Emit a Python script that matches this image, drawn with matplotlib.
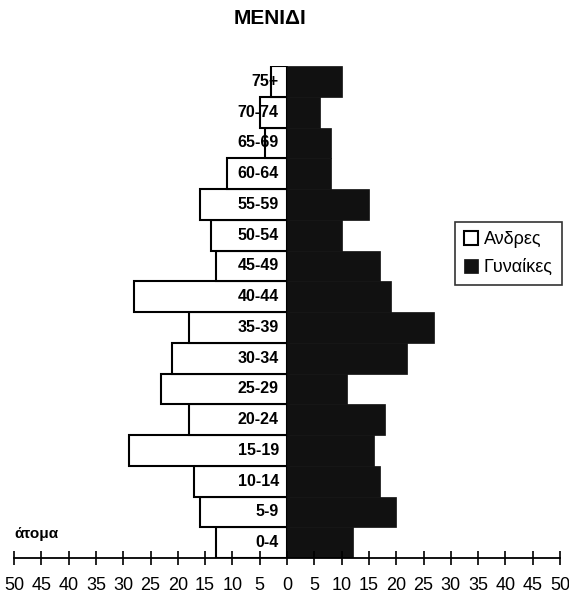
import matplotlib
matplotlib.use('Agg')
import matplotlib.pyplot as plt
import numpy as np

# age groups, bottom to top
age_groups = ['0-4', '5-9', '10-14', '15-19', '20-24', '25-29', '30-34', '35-39',
              '40-44', '45-49', '50-54', '55-59', '60-64', '65-69', '70-74', '75+']
men = [13, 16, 17, 29, 18, 23, 21, 18, 28, 13, 14, 16, 11, 4, 5, 3]
women = [12, 20, 17, 16, 18, 11, 22, 27, 19, 17, 10, 15, 8, 8, 6, 10]
xticks = list(range(-50, 51, 5))

plt.rcParams['font.family'] = ['Liberation Sans', 'DejaVu Sans']

fig = plt.figure(figsize=(5.69, 5.96), dpi=100)
ax = fig.add_axes([14 / 569, 1 - 558 / 596, 546 / 569, 492 / 596])

y = np.arange(len(age_groups))
b_men = ax.barh(y, -np.array(men), height=1.0, color='white',
                edgecolor='black', linewidth=1.5, label='Ανδρες')
b_women = ax.barh(y, women, height=1.0, color='#111111',
                  edgecolor='#111111', linewidth=0.5, label='Γυναίκες')

# age labels inside the men's bars, next to zero
for yi, lab in zip(y, age_groups):
    ax.text(-1.5, yi, lab, ha='right', va='center', fontsize=11.5,
            fontweight='bold')

ax.set_xlim(-50, 50)
ax.set_ylim(-0.5, len(age_groups) - 0.5)
ax.set_xticks(xticks)
ax.set_xticklabels([str(abs(t)) for t in xticks], fontsize=13)
ax.set_yticks([])
for s in ['top', 'right', 'left']:
    ax.spines[s].set_visible(False)
ax.spines['bottom'].set_linewidth(1.3)
ax.tick_params(axis='x', direction='inout', length=10, width=1.2, pad=9)

fig.text(270 / 569, 1 - 18 / 596, 'ΜΕΝΙΔΙ', ha='center', va='center',
         fontsize=15, fontweight='bold')
fig.text(14 / 569, 1 - 534 / 596, 'άτομα', ha='left', va='center',
         fontsize=11, fontweight='bold')

leg = fig.legend(handles=[b_men, b_women], loc='upper left',
                 bbox_to_anchor=(455 / 569, 1 - 222 / 596), fontsize=13,
                 frameon=True, fancybox=False, edgecolor='black',
                 handlelength=0.8, handleheight=0.8, handletextpad=0.3,
                 borderpad=0.5, labelspacing=0.6, borderaxespad=0)
leg.get_frame().set_linewidth(1.2)

fig.savefig('out.png', dpi=100)
